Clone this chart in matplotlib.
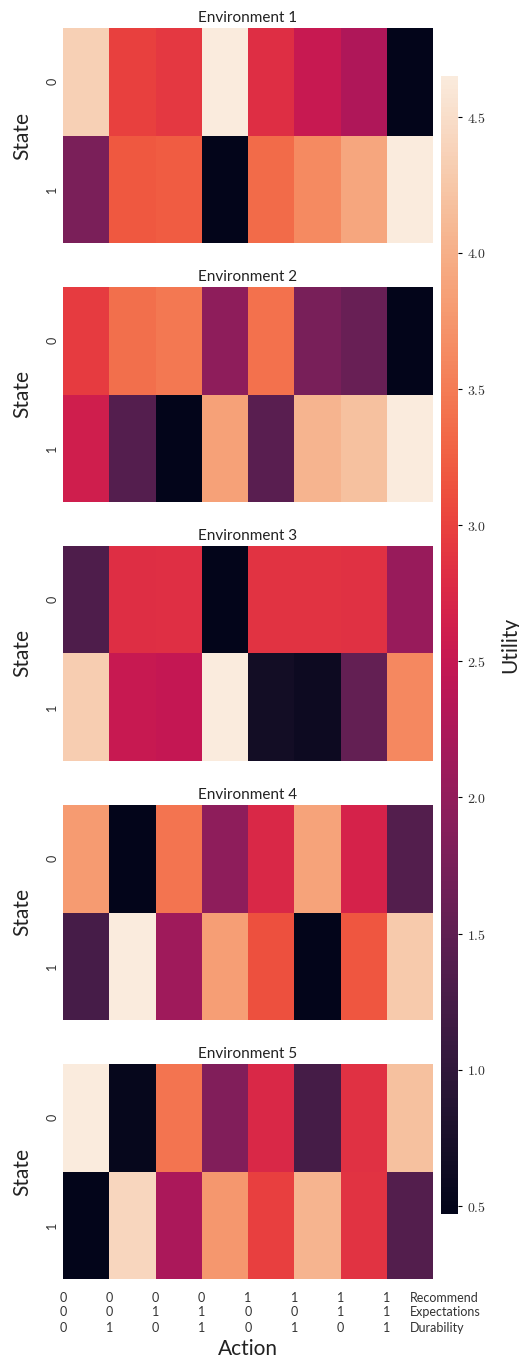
import numpy as np
import matplotlib
matplotlib.use("Agg")
import matplotlib.pyplot as plt
import seaborn as sns
from matplotlib.ticker import FuncFormatter

# utility per (state, action) for each environment
env1 = [[4.34, 2.99, 2.91, 4.65, 2.82, 2.52, 2.27, 0.47],
        [1.76, 3.19, 3.22, 0.47, 3.35, 3.63, 3.91, 4.65]]
env2 = [[2.94, 3.39, 3.47, 1.97, 3.40, 1.75, 1.59, 0.47],
        [2.61, 1.39, 0.47, 3.86, 1.44, 4.05, 4.19, 4.65]]
env3 = [[1.32, 2.82, 2.83, 0.47, 2.87, 2.87, 2.84, 2.07],
        [4.32, 2.52, 2.48, 4.65, 0.67, 0.61, 1.54, 3.61]]
env4 = [[3.80, 0.47, 3.43, 1.96, 2.74, 3.88, 2.69, 1.38],
        [1.25, 4.65, 2.12, 3.83, 3.12, 0.47, 3.18, 4.28]]
env5 = [[4.65, 0.53, 3.43, 1.84, 2.75, 1.23, 2.84, 4.18],
        [0.47, 4.41, 2.24, 3.76, 2.98, 4.05, 2.87, 1.38]]
environments = [env1, env2, env3, env4, env5]

states = ["0", "1"]
recommend = [0, 0, 0, 0, 1, 1, 1, 1]
expectations = [0, 0, 1, 1, 0, 0, 1, 1]
durability = [0, 1, 0, 1, 0, 1, 0, 1]
factor_names = ["Recommend", "Expectations", "Durability"]

vmin, vmax = 0.47, 4.65
cbar_ticks = [0.5, 1.0, 1.5, 2.0, 2.5, 3.0, 3.5, 4.0, 4.5]

plt.rcParams["font.family"] = ["Lato", "DejaVu Sans"]
plt.rcParams["mathtext.fontset"] = "cm"

fig = plt.figure(figsize=(5.19, 13.57), dpi=100)
cmap = sns.color_palette("rocket", as_cmap=True)

W, H = 519.0, 1357.0
left, width, height = 63 / W, 370 / W, 215 / H
tops = [28, 287, 546, 805, 1064]

action_labels = ["\n".join(str(v) for v in t)
                 for t in zip(recommend, expectations, durability)]

for i, env in enumerate(environments):
    ax = fig.add_axes([left, 1 - (tops[i] + 215) / H, width, height])
    sns.heatmap(np.array(env), ax=ax, cmap=cmap, vmin=vmin, vmax=vmax,
                cbar=False, xticklabels=False, yticklabels=states)
    ax.set_title(f"Environment {i + 1}", fontsize=11, pad=4, color="#222222")
    ax.set_ylabel("State", fontsize=15, color="#222222", labelpad=10)
    ax.tick_params(length=0, labelsize=9, labelcolor="#333333")
    ax.set_yticklabels(states, rotation=90, va="center")
    if i == len(environments) - 1:
        ax.set_xticks(np.arange(len(action_labels)))
        ax.set_xticklabels(action_labels, fontsize=9, linespacing=1.3,
                           color="#333333", ha="center", va="top")
        ax.tick_params(axis="x", pad=9)
        ax.annotate("\n".join(factor_names), xy=(7.5, 2.0), xycoords="data",
                    xytext=(0, -9), textcoords="offset points",
                    ha="left", va="top", fontsize=9, linespacing=1.3,
                    color="#333333")
        ax.set_xlabel("Action", fontsize=15, color="#222222", labelpad=4)

cax = fig.add_axes([441 / W, 1 - 1214 / H, 17 / W, (1214 - 76) / H])
sm = plt.cm.ScalarMappable(cmap=cmap, norm=plt.Normalize(vmin, vmax))
cb = fig.colorbar(sm, cax=cax, ticks=cbar_ticks)
cb.outline.set_visible(False)
cb.ax.yaxis.set_major_formatter(FuncFormatter(lambda v, p: f"${v:.1f}$"))
cb.ax.tick_params(labelsize=10, length=3, width=0.8, labelcolor="#333333")
cb.set_label("Utility", fontsize=15, color="#222222", labelpad=10)

fig.savefig("out.png", dpi=100)
